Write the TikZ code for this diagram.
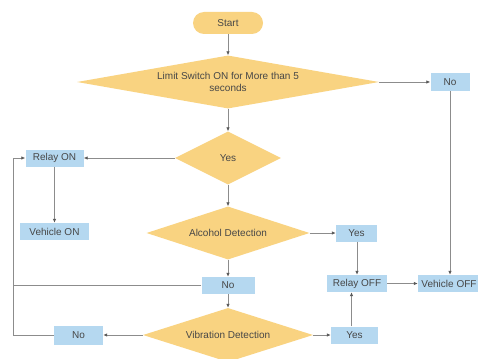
\documentclass[tikz,border=0pt]{standalone}
\usepackage{fontspec}
\setmainfont{Liberation Sans}
\usetikzlibrary{shapes.geometric,arrows.meta}
\definecolor{dfill}{HTML}{F9D381}
\definecolor{bfill}{HTML}{B5D8F0}
\definecolor{tcol}{HTML}{474747}
\definecolor{lcol}{HTML}{8C8C8C}
\definecolor{acol}{HTML}{5A5A5A}
\begin{document}
\begin{tikzpicture}[x=1pt,y=-1pt,
  every node/.style={font=\fontsize{10}{12}\selectfont, text=tcol},
  dec/.style={diamond, fill=dfill, inner sep=0pt, align=center},
  box/.style={rectangle, fill=bfill, inner sep=0pt, minimum height=17pt},
  arr/.style={draw=lcol, line width=0.8pt, -{Latex[length=4pt,width=3.5pt,color=acol]}},
  ln/.style={draw=lcol, line width=0.8pt}]
\useasboundingbox (0,0) rectangle (478,358);
\fill[white] (0,0) rectangle (478,358);

\node[fill=dfill, rounded corners=11pt, minimum width=70pt, minimum height=22pt, inner sep=0pt] (start) at (228,23) {Start};
\node[dec, aspect=5.7, minimum width=302pt, minimum height=53pt] (d1) at (228,82) {Limit Switch ON for More than 5\\seconds};
\node[box, minimum width=39pt, minimum height=18pt] (no1) at (450,82) {No};
\node[dec, aspect=2, minimum width=106pt, minimum height=53pt] (dyes) at (228,158) {Yes};
\node[box, minimum width=58pt] (ron) at (54.5,158) {Relay ON};
\node[box, minimum width=69pt] (von) at (54.5,231.5) {Vehicle ON};
\node[dec, aspect=3.08, minimum width=163pt, minimum height=53pt] (dalc) at (228,233) {Alcohol Detection};
\node[box, minimum width=41pt] (ayes) at (356.5,233) {Yes};
\node[box, minimum width=60pt] (roff) at (357,283.5) {Relay OFF};
\node[box, minimum width=62pt] (voff) at (449,283.5) {Vehicle OFF};
\node[box, minimum width=53pt] (no2) at (228,285.5) {No};
\node[dec, aspect=3.15, minimum width=170pt, minimum height=54pt] (dvib) at (228,335) {Vibration Detection};
\node[box, minimum width=49pt, minimum height=19pt] (no3) at (78.5,335) {No};
\node[box, minimum width=47pt] (vyes) at (354.5,335) {Yes};
\coordinate (fbx) at (13,0);

\draw[arr] (start) -- (d1);
\draw[arr] (d1) -- (no1);
\draw[arr] (d1) -- (dyes);
\draw[arr] (dyes) -- (ron);
\draw[arr] (ron) -- (von);
\draw[arr] (dyes) -- (dalc);
\draw[arr] (dalc) -- (ayes);
\draw[arr] (ayes.south -| roff.north) -- (roff.north);
\draw[arr] (no1.south) -- (no1.south |- voff.north);
\draw[arr] (roff) -- (voff);
\draw[arr] (dalc) -- (no2);
\draw[arr] (no2) -- (dvib);
\draw[arr] (dvib) -- (no3);
\draw[arr] (dvib) -- (vyes);
\draw[arr] ([xshift=-3pt]vyes.north) -- ([xshift=-3pt]vyes.north |- roff.south);
\draw[arr] (no3.west) -| (fbx |- ron.west) -- (ron.west);
\draw[ln] (no2.west) -- (no2.west -| fbx);
\end{tikzpicture}
\end{document}
